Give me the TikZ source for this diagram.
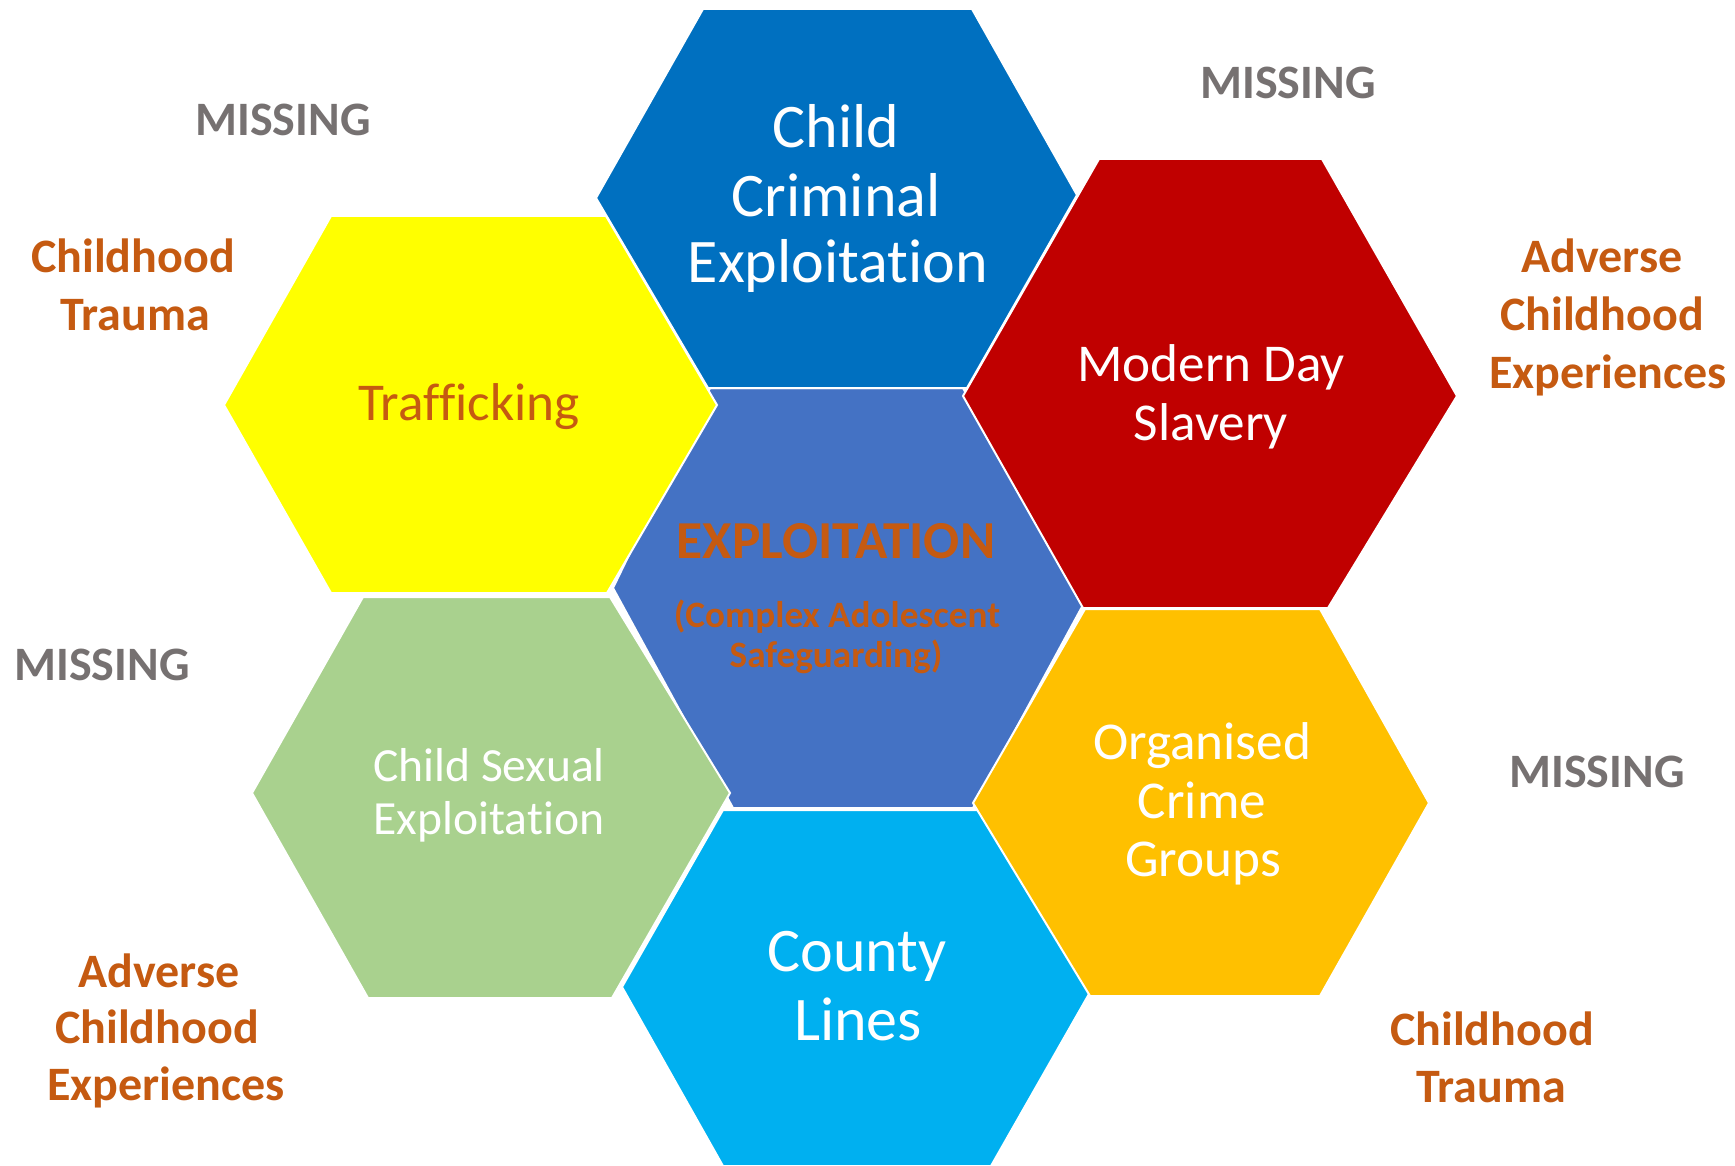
\documentclass[tikz,border=0pt]{standalone}
\usepackage{fontspec}
\setmainfont{Carlito}[Ligatures={NoCommon},RawFeature={-liga;-calt;-dlig}]
\definecolor{ccecol}{HTML}{0070C0}
\definecolor{midcol}{HTML}{4472C4}
\definecolor{yelcol}{HTML}{FFFF00}
\definecolor{redcol}{HTML}{C00000}
\definecolor{grncol}{HTML}{A9D18E}
\definecolor{cyncol}{HTML}{00B0F0}
\definecolor{orgcol}{HTML}{FFC000}
\definecolor{brown}{HTML}{C55A11}
\definecolor{greytxt}{HTML}{767171}
\begin{document}
\begin{tikzpicture}[x=0.5pt,y=-0.5pt,
  hex/.style={draw=white,line width=1pt,line join=miter},
  lbl/.style={anchor=base,inner sep=0pt,outer sep=0pt},
  big/.style={lbl,text=white,font=\fontsize{31}{37}\selectfont},
  mid/.style={lbl,text=white,font=\fontsize{26.6}{31}\selectfont},
  small/.style={lbl,text=white,font=\fontsize{23.8}{28}\selectfont},
  side/.style={lbl,text=brown,font=\bfseries\fontsize{24}{28}\selectfont},
  miss/.style={lbl,text=greytxt,font=\bfseries\fontsize{24}{28}\selectfont}]
\useasboundingbox[fill=white] (0,0) rectangle (1735,1166);
% centre hexagon
\path[hex,fill=midcol] (710,388) -- (963,388) -- (1083,605) -- (973,808) -- (733,808) -- (613,588) -- cycle;
% surrounding hexagons
\path[hex,fill=ccecol] (703,9) -- (972,9) -- (1077,195) -- (967,388) -- (708,388) -- (596,198) -- cycle;
\path[hex,fill=yelcol] (331,216) -- (606,216) -- (717,405) -- (607,593) -- (331,593) -- (224,405) -- cycle;
\path[hex,fill=redcol] (1099,159) -- (1322,159) -- (1457,396) -- (1328,608) -- (1083,608) -- (963,396) -- cycle;
\path[hex,fill=grncol] (363,597) -- (610,597) -- (730,793) -- (612,998) -- (368,998) -- (252,793) -- cycle;
\path[hex,fill=cyncol] (723,810) -- (992,810) -- (1093,987) -- (991,1166) -- (723,1166) -- (622,987) -- cycle;
\path[hex,fill=orgcol] (1085,609) -- (1320,609) -- (1429,803) -- (1320,996) -- (1090,996) -- (973,803) -- cycle;
% texts in hexagons
\node[lbl,text=brown,font=\bfseries\fontsize{26.7}{31}\selectfont] (ex1) at (836,558) {EXPLOITATION};
\node[lbl,text=brown,font=\bfseries\fontsize{18.6}{22}\selectfont] (ex2) at (837,627) {(Complex Adolescent};
\node[lbl,text=brown,font=\bfseries\fontsize{18.6}{22}\selectfont] (ex3) at (836,667) {Safeguarding)};
\node[big] (cce1) at (836,148) {Child};
\node[big] (cce2) at (836,217) {Criminal};
\node[big] (cce3) at (838,283) {Exploitation};
\node[mid] (mds1) at (1211,381) {Modern Day};
\node[mid] (mds2) at (1211,440) {Slavery};
\node[mid,text=brown] (traf) at (469,420) {Trafficking};
\node[small] (cse1) at (489,781) {Child Sexual};
\node[small] (cse2) at (489,834) {Exploitation};
\node[big] (cl1) at (857,971) {County};
\node[big] (cl2) at (858,1040) {Lines};
\node[mid] (ocg1) at (1202,759) {Organised};
\node[mid] (ocg2) at (1202,818) {Crime};
\node[mid] (ocg3) at (1203,876) {Groups};
% outside labels
\node[miss] (m1) at (283,136) {MISSING};
\node[miss] (m2) at (1288,99) {MISSING};
\node[miss] (m3) at (102,680) {MISSING};
\node[miss] (m4) at (1597,787) {MISSING};
\node[side] (ctl1) at (133,273) {Childhood};
\node[side] (ctl2) at (135,330) {Trauma};
\node[side] (acr1) at (1602,273) {Adverse};
\node[side] (acr2) at (1602,330) {Childhood};
\node[side] (acr3) at (1608,388) {Experiences};
\node[side] (acl1) at (159,987) {Adverse};
\node[side] (acl2) at (157,1043) {Childhood};
\node[side] (acl3) at (166,1100) {Experiences};
\node[side] (ctr1) at (1492,1045) {Childhood};
\node[side] (ctr2) at (1491,1102) {Trauma};
\end{tikzpicture}
\end{document}
